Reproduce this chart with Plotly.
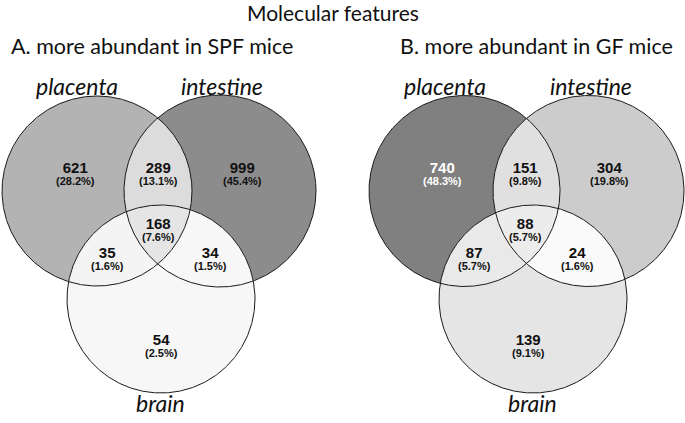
import numpy as np
import plotly.graph_objects as go

# Venn counts and shares, order: placenta only, P&I, intestine only, P&I&B, P&B, I&B, brain only
regions = ['placenta', 'placenta_intestine', 'intestine', 'all', 'placenta_brain', 'intestine_brain', 'brain']
counts_a = [621, 289, 999, 168, 35, 34, 54]
pct_a = ['28.2%', '13.1%', '45.4%', '7.6%', '1.6%', '1.5%', '2.5%']
counts_b = [740, 151, 304, 88, 87, 24, 139]
pct_b = ['48.3%', '9.8%', '19.8%', '5.7%', '5.7%', '1.6%', '9.1%']
set_names = ['placenta', 'intestine', 'brain']

# region fill greys
colors_a = {'placenta': '#b3b3b3', 'intestine': '#8c8c8c', 'brain': '#f7f7f7',
            'placenta_intestine': '#dcdcdc', 'placenta_brain': '#f4f4f4',
            'intestine_brain': '#f7f7f7', 'all': '#e5e5e5'}
colors_b = {'placenta': '#808080', 'intestine': '#cccccc', 'brain': '#e5e5e5',
            'placenta_intestine': '#e0e0e0', 'placenta_brain': '#e9e9e9',
            'intestine_brain': '#fafafa', 'all': '#ececec'}

# circle layout (pixel space): centre x, centre y, radius
circles_a = [(97, 191, 95), (220, 191, 96), (161, 299, 94)]
circles_b = [(464.5, 191, 95.5), (588.5, 191, 95.5), (533, 299, 94)]

# label offsets relative to the placenta circle centre
label_pos = {'placenta': (-22, -24), 'placenta_intestine': (61, -24), 'intestine': (145, -24),
             'all': (61, 32), 'placenta_brain': (10, 61), 'intestine_brain': (113, 61),
             'brain': (64, 148)}

FONT = 'Liberation Sans'
TITLE_FONT = 'Lato'


def circle_pts(c, n=720):
    t = np.linspace(0, 2 * np.pi, n, endpoint=False)
    return c[0] + c[2] * np.cos(t), c[1] + c[2] * np.sin(t)


def inside(x, y, c):
    return (x - c[0]) ** 2 + (y - c[1]) ** 2 <= c[2] ** 2 + 1e-6


def intersection(cs):
    # boundary points of each disk that lie in all other disks; region is convex
    xs, ys = [], []
    for i, c in enumerate(cs):
        x, y = circle_pts(c)
        m = np.ones_like(x, dtype=bool)
        for j, o in enumerate(cs):
            if j != i:
                m &= inside(x, y, o)
        xs.append(x[m])
        ys.append(y[m])
    x = np.concatenate(xs)
    y = np.concatenate(ys)
    a = np.arctan2(y - y.mean(), x - x.mean())
    o = np.argsort(a)
    return np.append(x[o], x[o][0]), np.append(y[o], y[o][0])


def add_venn(fig, circles, colors, counts, pcts):
    P, I, B = circles
    for name, c in zip(set_names, circles):
        x, y = circle_pts(c)
        fig.add_trace(go.Scatter(x=np.append(x, x[0]), y=np.append(y, y[0]), fill='toself',
                                 fillcolor=colors[name], line=dict(width=0), mode='lines',
                                 hoverinfo='skip'))
    for name, cs in [('placenta_intestine', [P, I]), ('placenta_brain', [P, B]),
                     ('intestine_brain', [I, B]), ('all', [P, I, B])]:
        x, y = intersection(cs)
        fig.add_trace(go.Scatter(x=x, y=y, fill='toself', fillcolor=colors[name],
                                 line=dict(width=0), mode='lines', hoverinfo='skip'))
    for c in circles:
        x, y = circle_pts(c)
        fig.add_trace(go.Scatter(x=np.append(x, x[0]), y=np.append(y, y[0]), mode='lines',
                                 line=dict(color='#1a1a1a', width=1), hoverinfo='skip'))
    for r, n, p in zip(regions, counts, pcts):
        dx, dy = label_pos[r]
        txt_col = 'white' if colors[r] == '#808080' else '#111111'
        # small base size keeps the two lines ~12px apart
        label = ('<span style="font-size:15px"><b>%d</b></span><br>'
                 '<span style="font-size:11px"><b>(%s)</b></span>' % (n, p))
        fig.add_annotation(x=P[0] + dx, y=P[1] + dy + 6, text=label, showarrow=False,
                           borderpad=0, yanchor='middle',
                           font=dict(family=FONT, size=9.3, color=txt_col))


fig = go.Figure()
add_venn(fig, circles_a, colors_a, counts_a, pct_a)
add_venn(fig, circles_b, colors_b, counts_b, pct_b)

# set names
for cs in (circles_a, circles_b):
    P, I, B = cs
    for name, (x, y) in zip(set_names, [(P[0] - 20, 86), (I[0] + 2, 86), (B[0] - 1, 403)]):
        fig.add_annotation(x=x, y=y, text='<i>%s</i>' % name, showarrow=False,
                           font=dict(family=TITLE_FONT, size=23, color='#111111'))

fig.add_annotation(x=333, y=12, text='Molecular features', showarrow=False,
                   font=dict(family=TITLE_FONT, size=21, color='#111111'))
fig.add_annotation(x=152, y=46, text='A. more abundant in SPF mice', showarrow=False,
                   font=dict(family=TITLE_FONT, size=21.5, color='#111111'))
fig.add_annotation(x=536, y=46, text='B. more abundant in GF mice', showarrow=False,
                   font=dict(family=TITLE_FONT, size=21.5, color='#111111'))

fig.update_layout(
    width=685, height=423,
    margin=dict(l=0, r=0, t=0, b=0),
    paper_bgcolor='white', plot_bgcolor='white',
    showlegend=False,
    xaxis=dict(range=[0, 685], visible=False, fixedrange=True),
    yaxis=dict(range=[423, 0], visible=False, fixedrange=True),
)

# drop the default page margin so the figure sits at the window corner
fig.write_html("out.html", config={'displayModeBar': False},
               post_script="document.body.style.margin='0px';")
